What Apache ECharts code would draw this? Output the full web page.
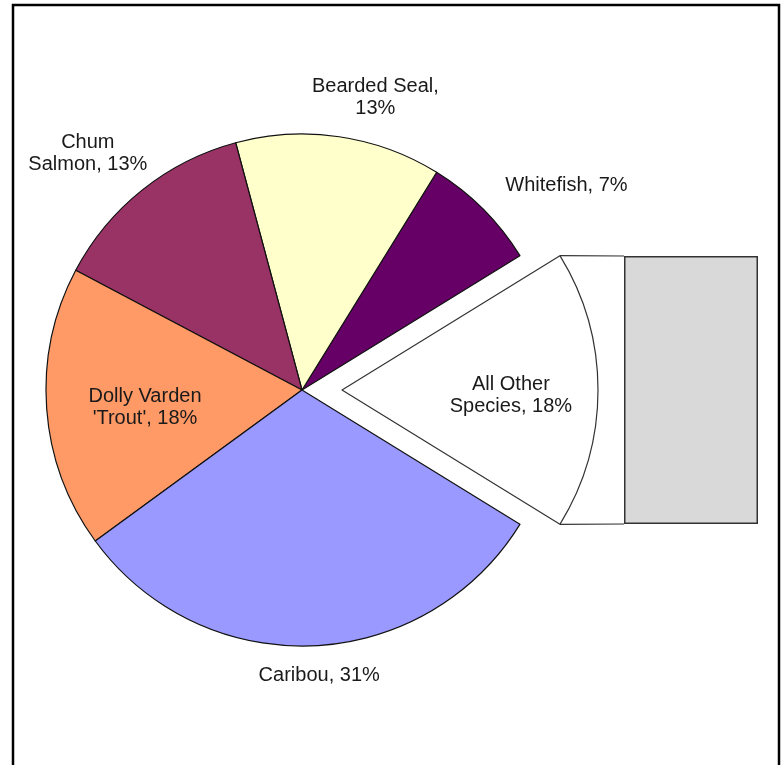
<!DOCTYPE html>
<html><head><meta charset="utf-8">
<script src="https://cdn.jsdelivr.net/npm/echarts@6/dist/echarts.min.js"></script>
<style>html,body{margin:0;padding:0;background:#fff}#c{width:782px;height:765px}</style>
</head><body><div id="c"></div><script>
// ---- data ----
const categories = ['Whitefish', 'Bearded Seal', 'Chum Salmon', "Dolly Varden 'Trout'", 'Caribou', 'All Other Species'];
const values = [7.4, 13.0, 13.1, 17.8, 31.2, 17.6];
const labelNames = ['Whitefish', 'Bearded Seal', 'Chum\nSalmon', "Dolly Varden\n'Trout'", 'Caribou', 'All Other\nSpecies'];
const labelSeparators = [', ', ',\n', ', ', ', ', ', ', ', '];
const otherIndex = 5;
const otherBreakdown = [17.6];

// ---- style ----
const colors = ['#660066', '#FFFFCC', '#993366', '#FF9966', '#9999FF', '#FFFFFF'];
const CX = 302, CY = 390, R = 256, OFFSET = 40;
const labelPlace = [[-7.3, 334], [-5.7, 302], [3.6, 319], [2.3, 158], [1.2, 286], [-1.7, 169]];
const FONT = "'Liberation Sans', Arial, sans-serif";

const total = values.reduce((a, b) => a + b, 0);
// the "other" slice is centred on the 3 o'clock direction
const START = values[otherIndex] / total * 180;
function midAngle(i) {
  let cum = 0;
  for (let k = 0; k < i; k++) cum += values[k];
  return START + (cum + values[i] / 2) / total * 360;
}
const rad = d => d * Math.PI / 180;
const otherMid = midAngle(otherIndex);
const ocx = CX + OFFSET * Math.cos(rad(otherMid));
const ocy = CY - OFFSET * Math.sin(rad(otherMid));

function makeData(exploded) {
  return values.map((v, i) => {
    const visible = exploded ? i === otherIndex : i !== otherIndex;
    return {
      name: categories[i],
      value: v,
      itemStyle: visible
        ? { color: colors[i], borderColor: i === otherIndex ? '#333' : '#111', borderWidth: 1.2 }
        : { color: 'rgba(0,0,0,0)', borderWidth: 0 },
      label: { show: visible }
    };
  });
}

const labelStyle = {
  show: true,
  position: 'outside',
  color: '#1a1a1a',
  fontFamily: FONT,
  fontSize: 20,
  lineHeight: 22,
  formatter: p => labelNames[p.dataIndex] + labelSeparators[p.dataIndex] + Math.round(p.value / total * 100) + '%'
};
function layoutFor(cx, cy) {
  return function (p) {
    const i = p.dataIndex;
    const a = rad(midAngle(i) + labelPlace[i][0]);
    return {
      x: cx + labelPlace[i][1] * Math.cos(a),
      y: cy - labelPlace[i][1] * Math.sin(a),
      align: 'center',
      verticalAlign: 'middle'
    };
  };
}

const half = values[otherIndex] / total * 180;
const topCorner = [ocx + R * Math.cos(rad(otherMid + half)), ocy - R * Math.sin(rad(otherMid + half))];
const botCorner = [ocx + R * Math.cos(rad(otherMid - half)), ocy - R * Math.sin(rad(otherMid - half))];
const BAR = { left: 624, top: 256, width: 134, height: 268 };

const pieBase = {
  type: 'pie',
  radius: [0, R],
  startAngle: START,
  clockwise: false,
  avoidLabelOverlap: false,
  silent: true,
  emphasis: { disabled: true },
  label: labelStyle,
  labelLine: { show: false }
};

const chart = echarts.init(document.getElementById('c'));
chart.setOption({
  animation: false,
  backgroundColor: '#fff',
  grid: { left: BAR.left, top: BAR.top, width: BAR.width, height: BAR.height },
  xAxis: { type: 'category', data: ['Other'], show: false },
  yAxis: { type: 'value', min: 0, max: otherBreakdown.reduce((a, b) => a + b, 0), show: false },
  graphic: [
    { type: 'rect', shape: { x: 13, y: 5, width: 766, height: 800 }, style: { fill: 'none', stroke: '#000', lineWidth: 2.5 }, z: 100 },
    { type: 'line', shape: { x1: topCorner[0], y1: topCorner[1], x2: BAR.left, y2: BAR.top }, style: { stroke: '#333', lineWidth: 1.2 }, z: 50 },
    { type: 'line', shape: { x1: botCorner[0], y1: botCorner[1], x2: BAR.left, y2: BAR.top + BAR.height }, style: { stroke: '#333', lineWidth: 1.2 }, z: 50 }
  ],
  series: [
    Object.assign({}, pieBase, { center: [CX, CY], data: makeData(false), labelLayout: layoutFor(CX, CY) }),
    Object.assign({}, pieBase, { center: [ocx, ocy], data: makeData(true), labelLayout: layoutFor(ocx, ocy) }),
    {
      type: 'bar',
      data: otherBreakdown,
      barWidth: '100%',
      stack: 'other',
      silent: true,
      itemStyle: { color: '#D9D9D9', borderColor: '#333', borderWidth: 1.5 }
    }
  ]
});
</script></body></html>
